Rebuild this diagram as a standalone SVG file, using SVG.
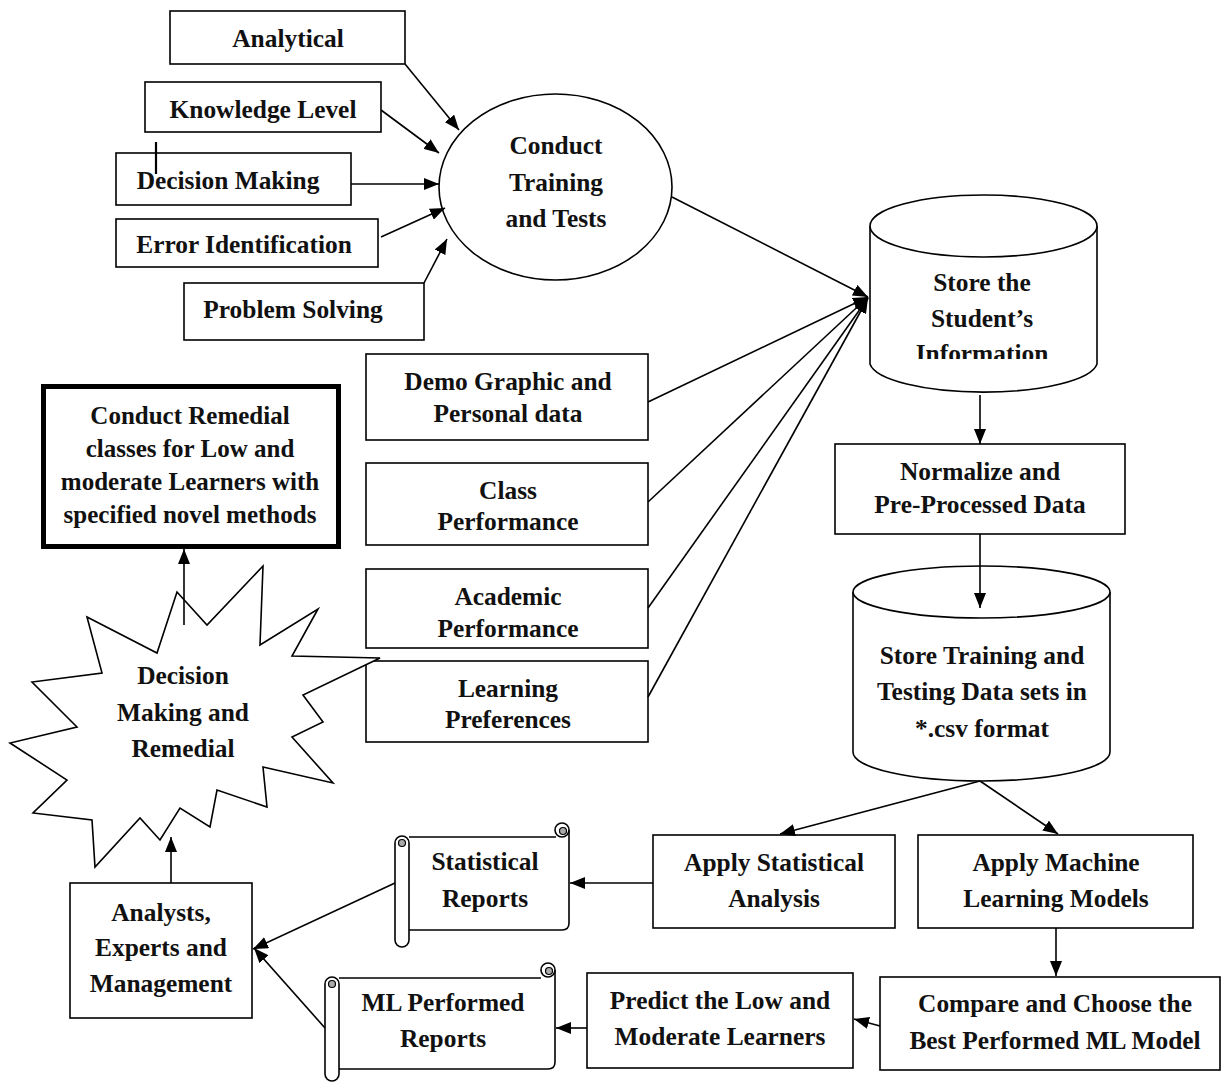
<svg xmlns="http://www.w3.org/2000/svg" width="1225" height="1083" viewBox="0 0 1225 1083">
<style>
.b{fill:#fff;stroke:#000;stroke-width:1.6}
.t{font-family:"Liberation Serif","Times New Roman",serif;font-weight:bold;font-size:25.4px;fill:#111;text-anchor:middle}
.c{fill:none;stroke:#000;stroke-width:1.6}
.g{fill:#aaa;stroke:#000;stroke-width:1.2}
</style>
<defs>
<marker id="ah" markerUnits="userSpaceOnUse" markerWidth="15" markerHeight="12" refX="15" refY="6" orient="auto">
<path d="M0,0 L15,6 L0,12 z" fill="#000"/>
</marker>
<clipPath id="cl1"><rect x="860" y="180" width="250" height="179"/></clipPath>
</defs>
<rect width="1225" height="1083" fill="#fff"/>

<g id="analytical"><rect class="b" x="170" y="11" width="235" height="53"/><text class="t" x="288" y="47">Analytical</text></g>
<g id="knowledge"><rect class="b" x="145" y="82" width="236" height="50"/><text class="t" x="263" y="118">Knowledge Level</text></g>
<g id="decision"><rect class="b" x="116" y="153" width="235" height="52"/><text class="t" x="228" y="189">Decision Making</text><line x1="156" y1="142" x2="156" y2="174" stroke="#000" stroke-width="2.2"/></g>
<g id="error"><rect class="b" x="116" y="219" width="262" height="48"/><text class="t" x="244" y="253">Error Identification</text></g>
<g id="problem"><rect class="b" x="184" y="283" width="240" height="57"/><text class="t" x="293" y="318">Problem Solving</text></g>

<g id="conduct"><ellipse class="b" cx="555.5" cy="187" rx="116.5" ry="93"/>
<text class="t" x="556" y="154">Conduct</text><text class="t" x="556" y="191">Training</text><text class="t" x="556" y="227">and Tests</text></g>

<g id="store1">
<path class="b" d="M870,226 V364 A114,31 0 0 0 1097,364 V226"/>
<ellipse class="b" cx="983.5" cy="226" rx="113.5" ry="31"/>
<g clip-path="url(#cl1)"><text class="t" x="982" y="291">Store the</text><text class="t" x="982" y="327">Student’s</text><text class="t" x="982" y="362">Information</text></g>
</g>

<g id="normalize"><rect class="b" x="835" y="444" width="290" height="90"/><text class="t" x="980" y="480">Normalize and</text><text class="t" x="980" y="513">Pre-Processed Data</text></g>

<g id="store2">
<path class="b" d="M853,592 V752 A128.5,29 0 0 0 1110,752 V592"/>
<ellipse class="b" cx="981.5" cy="592" rx="128.5" ry="26"/>
<text class="t" x="982" y="664">Store Training and</text><text class="t" x="982" y="700">Testing Data sets in</text><text class="t" x="982" y="737">*.csv format</text>
</g>

<g id="demo"><rect class="b" x="366" y="354" width="282" height="86"/><text class="t" x="508" y="390">Demo Graphic and</text><text class="t" x="508" y="422">Personal data</text></g>
<g id="class"><rect class="b" x="366" y="463" width="282" height="82"/><text class="t" x="508" y="499">Class</text><text class="t" x="508" y="530">Performance</text></g>
<g id="academic"><rect class="b" x="366" y="569" width="282" height="79"/><text class="t" x="508" y="605">Academic</text><text class="t" x="508" y="637">Performance</text></g>
<g id="learning"><rect class="b" x="366" y="661" width="282" height="81"/><text class="t" x="508" y="697">Learning</text><text class="t" x="508" y="728">Preferences</text></g>

<g id="remedial"><rect x="43.5" y="386.5" width="295" height="160" fill="#fff" stroke="#000" stroke-width="5"/>
<text class="t" x="190" y="424" style="font-size:25px">Conduct Remedial</text><text class="t" x="190" y="457" style="font-size:25px">classes for Low and</text><text class="t" x="190" y="490" style="font-size:25px">moderate Learners with</text><text class="t" x="190" y="523" style="font-size:25px">specified novel methods</text></g>

<g id="star"><polygon class="b" points="87,617 157,653 177,592 207,625 263,566 260,645 318,609 292,656 380,658 303,695 323,722 292,737 333,783 263,767 267,807 217,790 210,827 180,808 160,840 140,818 95,867 92,820 33,813 67,780 10,743 77,727 32,682 102,673"/>
<text class="t" x="183" y="684">Decision</text><text class="t" x="183" y="721">Making and</text><text class="t" x="183" y="757">Remedial</text></g>

<g id="analysts"><rect class="b" x="70" y="883" width="182" height="135"/><text class="t" x="161" y="921">Analysts,</text><text class="t" x="161" y="956">Experts and</text><text class="t" x="161" y="992">Management</text></g>

<g id="applystat"><rect class="b" x="653" y="835" width="242" height="93"/><text class="t" x="774" y="871">Apply Statistical</text><text class="t" x="774" y="907">Analysis</text></g>
<g id="applyml"><rect class="b" x="918" y="835" width="275" height="93"/><text class="t" x="1056" y="871">Apply Machine</text><text class="t" x="1056" y="907">Learning Models</text></g>
<g id="compare"><rect class="b" x="880" y="977" width="340" height="93"/><text class="t" x="1055" y="1012">Compare and Choose the</text><text class="t" x="1055" y="1049">Best Performed ML Model</text></g>
<g id="predict"><rect class="b" x="587" y="973" width="266" height="95"/><text class="t" x="720" y="1009">Predict the Low and</text><text class="t" x="720" y="1045">Moderate Learners</text></g>

<g id="statreports">
<path d="M409,837 H556 V830 H569 V923 Q569,930 562,930 H409 Z" fill="#fff"/>
<path class="c" d="M409,837 H556 M569,830 V923 Q569,930 562,930 H409"/>
<circle class="b" cx="562" cy="830" r="7"/><circle class="g" cx="563" cy="831" r="3.5"/>
<rect class="b" x="395" y="836" width="14" height="111" rx="7"/><circle class="g" cx="402" cy="843" r="3.5"/>
<text class="t" x="485" y="870">Statistical</text><text class="t" x="485" y="907">Reports</text>
</g>

<g id="mlreports">
<path d="M339,978 H541 V970 H555 V1062 Q555,1069 548,1069 H339 Z" fill="#fff"/>
<path class="c" d="M339,978 H541 M555,970 V1062 Q555,1069 548,1069 H339"/>
<circle class="b" cx="548" cy="970" r="7"/><circle class="g" cx="549" cy="971" r="3.5"/>
<rect class="b" x="325" y="977" width="14" height="104" rx="7"/><circle class="g" cx="332" cy="984" r="3.5"/>
<text class="t" x="443" y="1011">ML Performed</text><text class="t" x="443" y="1047">Reports</text>
</g>

<g id="connectors" class="c" marker-end="url(#ah)">
<line x1="405" y1="64" x2="459" y2="130"/>
<line x1="381" y1="110" x2="439" y2="153"/>
<line x1="351" y1="184" x2="439" y2="184"/>
<line x1="381" y1="237" x2="445" y2="208"/>
<line x1="424" y1="283" x2="447" y2="239"/>
<line x1="672" y1="197" x2="868" y2="297"/>
<line x1="648" y1="402" x2="868" y2="297"/>
<line x1="648" y1="502" x2="868" y2="297"/>
<line x1="648" y1="608" x2="868" y2="298"/>
<line x1="648" y1="697" x2="868" y2="298"/>
<line x1="980" y1="395" x2="980" y2="444"/>
<line x1="980" y1="534" x2="980" y2="608"/>
<line x1="980" y1="781" x2="780" y2="834"/>
<line x1="980" y1="781" x2="1058" y2="834"/>
<line x1="1056" y1="928" x2="1056" y2="976"/>
<line x1="880" y1="1026" x2="854" y2="1019"/>
<line x1="653" y1="883" x2="570" y2="883"/>
<line x1="587" y1="1028" x2="556" y2="1028"/>
<line x1="395" y1="883" x2="253" y2="949"/>
<line x1="325" y1="1028" x2="254" y2="948"/>
<line x1="171" y1="883" x2="171" y2="837"/>
<line x1="184" y1="625" x2="184" y2="549"/>
</g>
</svg>
